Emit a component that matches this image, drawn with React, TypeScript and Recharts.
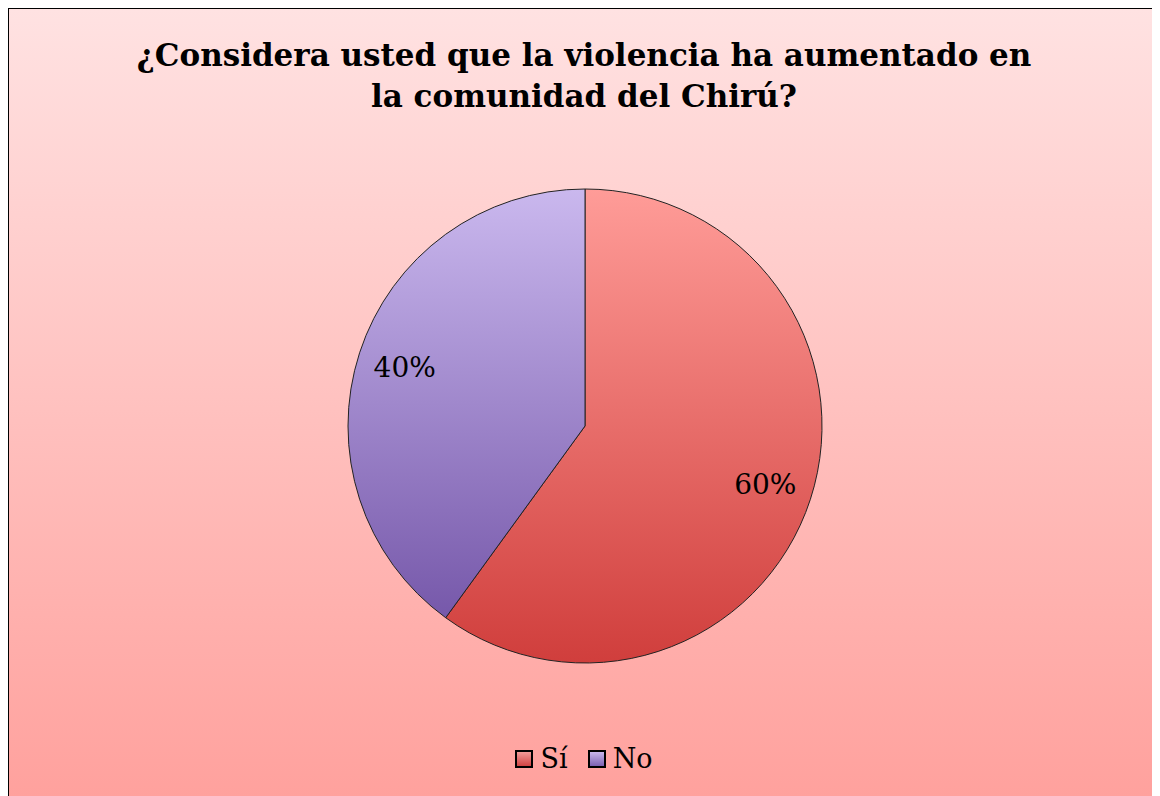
import { PieChart, Pie, Cell, Legend } from "recharts";

const categories = ["Sí", "No"];
const values = [60, 40];
const labels = ["60%", "40%"];

const data = categories.map((name, i) => ({ name, value: values[i], label: labels[i] }));

const gradIds = ["gradSi", "gradNo"];

const RAD = Math.PI / 180;

const renderLabel = (props: any) => {
  const { cx, cy, midAngle, outerRadius, index } = props;
  const r = outerRadius * 0.8;
  const x = cx + r * Math.cos(-midAngle * RAD);
  const y = cy + r * Math.sin(-midAngle * RAD);
  return (
    <text
      x={x}
      y={y}
      textAnchor="middle"
      dominantBaseline="central"
      fill="#000"
      style={{ fontFamily: "'DejaVu Serif', serif", fontSize: 28 }}
    >
      {data[index].label}
    </text>
  );
};

const renderLegend = () => (
  <div
    style={{
      display: "flex",
      justifyContent: "center",
      alignItems: "center",
      gap: 20,
      fontFamily: "'DejaVu Serif', serif",
      fontSize: 27,
    }}
  >
    {data.map((d, i) => (
      <div key={d.name} style={{ display: "flex", alignItems: "center", gap: 7 }}>
        <span
          style={{
            display: "inline-block",
            width: 14,
            height: 14,
            border: "2px solid #000",
            background:
              i === 0
                ? "linear-gradient(#f39a98, #d04444)"
                : "linear-gradient(#c9b6ec, #7d62b2)",
          }}
        />
        <span>{d.name}</span>
      </div>
    ))}
  </div>
);

export default function App() {
  return (
    <div
      style={{
        width: 1150,
        height: 800,
        border: "1px solid #000",
        background: "linear-gradient(#ffe2e2, #ffa09c)",
        position: "relative",
        boxShadow: "1px 1px 2px rgba(0,0,0,0.4)",
      }}
    >
      <div
        style={{
          position: "absolute",
          top: 26,
          left: 0,
          width: 1150,
          textAlign: "center",
          fontFamily: "'DejaVu Serif', serif",
          fontWeight: "bold",
          fontSize: 31,
          lineHeight: "41px",
          color: "#000",
        }}
      >
        ¿Considera usted que la violencia ha aumentado en
        <br />
        la comunidad del Chirú?
      </div>
      <PieChart width={1150} height={790} style={{ position: "absolute", top: 0, left: 0 }}>
        <defs>
          <linearGradient id="gradSi" x1="0" y1="0" x2="0" y2="1">
            <stop offset="0%" stopColor="#ff9c98" />
            <stop offset="100%" stopColor="#d03e3c" />
          </linearGradient>
          <linearGradient id="gradNo" x1="0" y1="0" x2="0" y2="1">
            <stop offset="0%" stopColor="#cab8ee" />
            <stop offset="100%" stopColor="#7658aa" />
          </linearGradient>
        </defs>
        <Pie
          data={data}
          dataKey="value"
          nameKey="name"
          cx={571}
          cy={412}
          outerRadius={237}
          startAngle={90}
          endAngle={-270}
          stroke="#222"
          strokeWidth={1}
          label={renderLabel}
          labelLine={false}
          isAnimationActive={false}
        >
          {data.map((d, i) => (
            <Cell key={d.name} fill={`url(#${gradIds[i]})`} />
          ))}
        </Pie>
        <Legend
          verticalAlign="bottom"
          content={renderLegend}
          wrapperStyle={{ bottom: 25 }}
        />
      </PieChart>
    </div>
  );
}
